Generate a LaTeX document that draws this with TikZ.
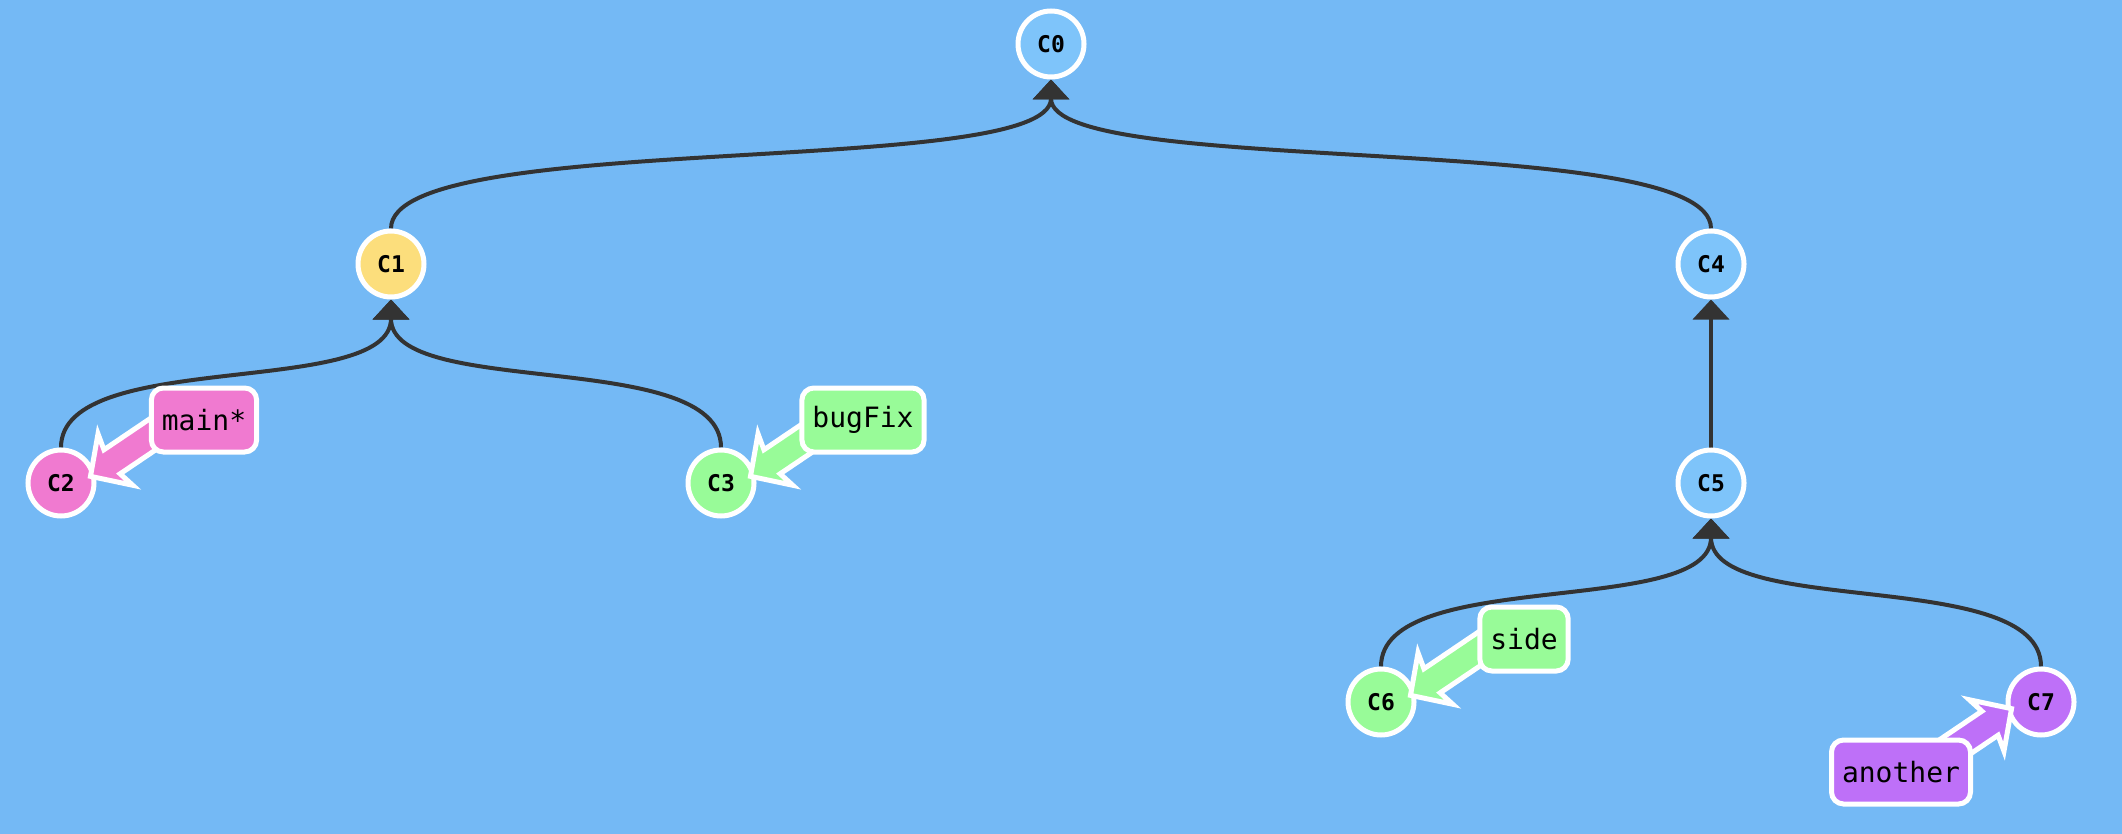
\documentclass[tikz,border=0pt]{standalone}
\usepackage{fontspec}
\setmonofont{DejaVu Sans Mono}
\usetikzlibrary{arrows.meta}
\definecolor{bg}{RGB}{116,185,245}
\definecolor{bluec}{RGB}{126,196,250}
\definecolor{yellowc}{RGB}{252,222,124}
\definecolor{pinkc}{RGB}{240,122,208}
\definecolor{greenc}{RGB}{152,251,152}
\definecolor{purplec}{RGB}{190,112,248}
\definecolor{edgec}{RGB}{51,51,51}
\pgfdeclarelayer{backl}
\pgfdeclarelayer{edgel}
\pgfsetlayers{backl,edgel,main}
\begin{document}
\begin{tikzpicture}[x=1pt,y=-1pt,
  commit/.style={circle, draw=white, line width=5pt, minimum size=66pt, inner sep=0pt, outer sep=2.5pt,
    font=\ttfamily\bfseries\fontsize{23}{23}\selectfont},
  edge/.style={draw=edgec, line width=4pt, -{Triangle[length=20pt,width=36pt]}},
  blabel/.style={rounded corners=12pt, draw=white, line width=5pt, minimum height=64pt,
    inner xsep=10.5pt, inner ysep=0pt, font=\ttfamily\fontsize{28}{28}\selectfont},
  barrow/.style={draw=white, line width=5pt, line join=miter, miter limit=4}
]
\useasboundingbox (0,0) rectangle (2122,834);
\begin{pgfonlayer}{backl}
\fill[bg] (0,0) rectangle (2122,834);
\end{pgfonlayer}

% commits
\node[commit, fill=bluec]   (c0) at (1051,44)  {C0};
\node[commit, fill=yellowc] (c1) at (391,264)  {C1};
\node[commit, fill=bluec]   (c4) at (1711,264) {C4};
\node[commit, fill=pinkc]   (c2) at (61,483)   {C2};
\node[commit, fill=greenc]  (c3) at (721,483)  {C3};
\node[commit, fill=bluec]   (c5) at (1711,483) {C5};
\node[commit, fill=greenc]  (c6) at (1381,702) {C6};
\node[commit, fill=purplec] (c7) at (2041,702) {C7};

% edges (beneath commits)
\begin{pgfonlayer}{edgel}
\draw[edge] (c1.north) .. controls +(0,-100) and +(0,100) .. (c0.south);
\draw[edge] (c4.north) .. controls +(0,-100) and +(0,100) .. (c0.south);
\draw[edge] (c2.north) .. controls +(0,-100) and +(0,100) .. (c1.south);
\draw[edge] (c3.north) .. controls +(0,-100) and +(0,100) .. (c1.south);
\draw[edge] (c5.north) -- (c4.south);
\draw[edge] (c6.north) .. controls +(0,-100) and +(0,100) .. (c5.south);
\draw[edge] (c7.north) .. controls +(0,-100) and +(0,100) .. (c5.south);
\end{pgfonlayer}

% branch arrows
\path (c2) ++(27,-5) coordinate (t2);
\path (c3) ++(27,-5) coordinate (t3);
\path (c6) ++(27,-5) coordinate (t6);
\path (c7) ++(-27,5) coordinate (t7);
\begin{scope}[shift={(t2)}, rotate=34]
  \filldraw[barrow, fill=pinkc] (3,0) -- (33,31) -- (29,14.5) -- (125,14.5) -- (125,-14.5) -- (29,-14.5) -- (33,-31) -- cycle;
\end{scope}
\begin{scope}[shift={(t3)}, rotate=34]
  \filldraw[barrow, fill=greenc] (3,0) -- (33,31) -- (29,14.5) -- (125,14.5) -- (125,-14.5) -- (29,-14.5) -- (33,-31) -- cycle;
\end{scope}
\begin{scope}[shift={(t6)}, rotate=34]
  \filldraw[barrow, fill=greenc] (3,0) -- (33,31) -- (29,14.5) -- (125,14.5) -- (125,-14.5) -- (29,-14.5) -- (33,-31) -- cycle;
\end{scope}
\begin{scope}[shift={(t7)}, rotate=214]
  \filldraw[barrow, fill=purplec] (3,0) -- (33,31) -- (29,14.5) -- (125,14.5) -- (125,-14.5) -- (29,-14.5) -- (33,-31) -- cycle;
\end{scope}

% branch labels
\node[blabel, fill=pinkc]   (bmain) at (204,420)  {main*};
\node[blabel, fill=greenc]  (bbug)  at (863,420)  {bugFix};
\node[blabel, fill=greenc]  (bside) at (1524,639) {side};
\node[blabel, fill=purplec] (bano)  at (1901,772) {another};
\end{tikzpicture}
\end{document}
